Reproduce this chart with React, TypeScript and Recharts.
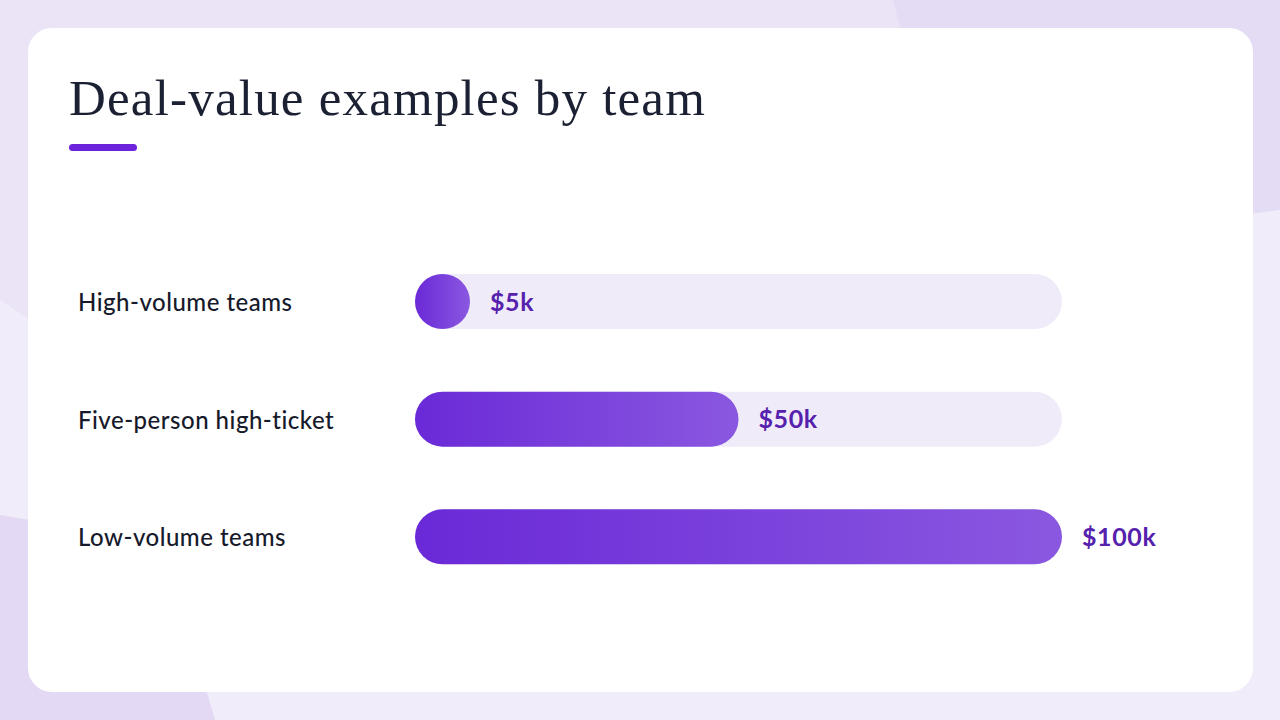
import React from 'react';
import { BarChart, Bar, XAxis, YAxis, LabelList } from 'recharts';

const teams = ['High-volume teams', 'Five-person high-ticket', 'Low-volume teams'];
const dealValues = [5000, 50000, 100000];
const valueLabels = ['$5k', '$50k', '$100k'];

const data = teams.map((team, i) => ({ team, value: dealValues[i], label: valueLabels[i] }));

const LABEL_X = 78;
const BAR_H = 55;

// pill-shaped bar, never narrower than it is tall
const PillBar = (props: any) => {
  const { x, y, width, height } = props;
  const w = Math.max(width, height);
  const r = height / 2;
  return <rect x={x} y={y} width={w} height={height} rx={r} ry={r} fill="url(#barGrad)" />;
};

const TeamTick = (props: any) => {
  const { y, payload } = props;
  return (
    <text
      x={LABEL_X}
      y={y}
      dy={9}
      textAnchor="start"
      fill="#171a2b"
      fontFamily="Lato, 'Noto Sans', sans-serif"
      fontSize={24}
      fontWeight={500}
      letterSpacing={0.5}
    >
      {payload.value}
    </text>
  );
};

const ValueLabel = (props: any) => {
  const { x, y, width, height, value } = props;
  const end = x + Math.max(width, height);
  return (
    <text
      x={end + 20}
      y={y + height / 2}
      dy={9}
      fill="#5521ad"
      fontFamily="Lato, sans-serif"
      fontSize={25}
      fontWeight={700}
      letterSpacing={0.6}
    >
      {value}
    </text>
  );
};

export default function App() {
  return (
    <div
      style={{
        position: 'fixed',
        left: 0,
        top: 0,
        width: 1280,
        height: 720,
        overflow: 'hidden',
        background: '#ebe4f7',
      }}
    >
      <div
        style={{
          position: 'absolute',
          inset: 0,
          background: '#e4dbf5',
          clipPath: 'polygon(893px 0, 1280px 0, 1280px 210px, 960px 260px)',
        }}
      />
      <div
        style={{
          position: 'absolute',
          inset: 0,
          background: '#f1ecfa',
          clipPath: 'polygon(0 300px, 0 720px, 1280px 720px, 1280px 210px, 900px 260px, 300px 500px)',
        }}
      />
      <div
        style={{
          position: 'absolute',
          inset: 0,
          background: '#e3d9f4',
          clipPath: 'polygon(0 515px, 90px 530px, 180px 600px, 215px 720px, 0 720px)',
        }}
      />
      <div
        style={{
          position: 'absolute',
          left: 28,
          top: 28,
          width: 1225,
          height: 664,
          background: '#ffffff',
          borderRadius: 24,
        }}
      />
      <div
        style={{
          position: 'absolute',
          left: 69,
          top: 70,
          fontFamily: "'Liberation Serif', serif",
          fontSize: 51,
          color: '#1b2133',
          lineHeight: '56px',
          whiteSpace: 'nowrap',
          letterSpacing: 1.2,
        }}
      >
        Deal-value examples by team
      </div>
      <div
        style={{
          position: 'absolute',
          left: 69,
          top: 144,
          width: 68,
          height: 7,
          borderRadius: 4,
          background: '#6d22dc',
        }}
      />
      <div style={{ position: 'absolute', left: 0, top: 0 }}>
        <BarChart
          width={1280}
          height={720}
          data={data}
          layout="vertical"
          margin={{ top: 243, right: 218, bottom: 124, left: LABEL_X }}
        >
          <defs>
            <linearGradient id="barGrad" x1="0" y1="0" x2="1" y2="0">
              <stop offset="0%" stopColor="#6a29d7" />
              <stop offset="100%" stopColor="#8a58e0" />
            </linearGradient>
          </defs>
          <XAxis type="number" domain={[0, 100000]} hide />
          <YAxis
            type="category"
            dataKey="team"
            width={415 - LABEL_X}
            axisLine={false}
            tickLine={false}
            tick={<TeamTick />}
          />
          <Bar
            dataKey="value"
            barSize={BAR_H}
            isAnimationActive={false}
            background={{ fill: '#f0ebf9', radius: BAR_H / 2 }}
            shape={<PillBar />}
          >
            <LabelList dataKey="label" content={<ValueLabel />} />
          </Bar>
        </BarChart>
      </div>
    </div>
  );
}
